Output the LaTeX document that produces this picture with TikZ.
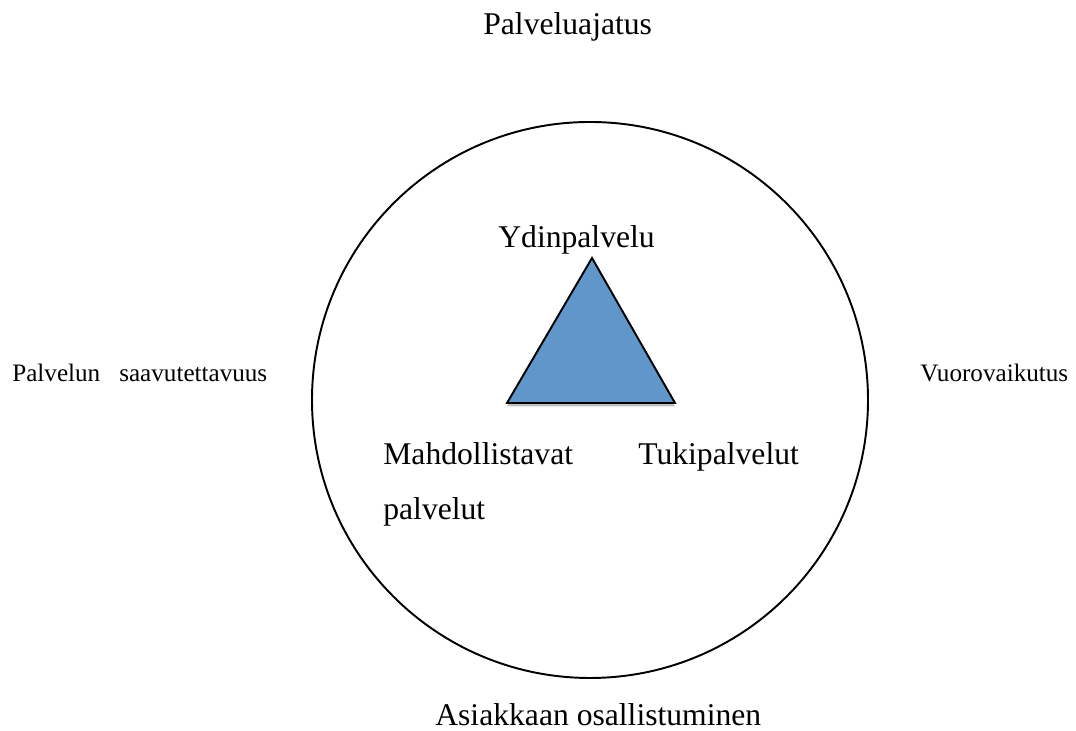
\documentclass[tikz,border=0pt]{standalone}
\usepackage{fontspec}
\setmainfont{Liberation Serif}
\definecolor{coreblue}{RGB}{96,150,201}
\tikzset{
    bigtext/.style={inner sep=0, anchor=base west, font=\rmfamily\fontsize{18}{22}\selectfont},
    sidetext/.style={inner sep=0, anchor=base west, font=\rmfamily\fontsize{14.3}{17}\selectfont}
}
\begin{document}
\begin{tikzpicture}
                \useasboundingbox (0, 0) rectangle (21.52, 14.62);

                \node (ring) at (11.8, 6.62) [draw, shape=circle, line width=1.1pt, minimum size=11.12cm] {};

                \coordinate (top) at (11.84, 9.46);
                \coordinate (left) at (10.14, 6.56);
                \coordinate (right) at (13.5, 6.56);

                \fill[black, opacity=0.25] ([yshift=-0.07cm]left) -- ([yshift=-0.07cm]right) -- ([yshift=-0.07cm]top) -- cycle;
                \draw[fill=coreblue, line width=1.1pt, line join=miter] (left) -- (right) -- (top) -- cycle;

                \node (idea) at (9.66, 13.92) [bigtext] {Palveluajatus};
                \node (part) at (8.70, 0.10) [bigtext] {Asiakkaan osallistuminen};
                \node (access) at (0.24, 6.98) [sidetext] {Palvelun\hspace{0.38cm}saavutettavuus};
                \node (inter) at (18.40, 6.98) [sidetext] {Vuorovaikutus};

                \node (core) at (9.96, 9.66) [bigtext] {Ydinpalvelu};
                \node (enable) at (7.66, 5.32) [bigtext] {Mahdollistavat};
                \node (enable2) at (7.66, 4.22) [bigtext] {palvelut};
                \node (support) at (12.76, 5.32) [bigtext] {Tukipalvelut};
            \end{tikzpicture}
\end{document}
